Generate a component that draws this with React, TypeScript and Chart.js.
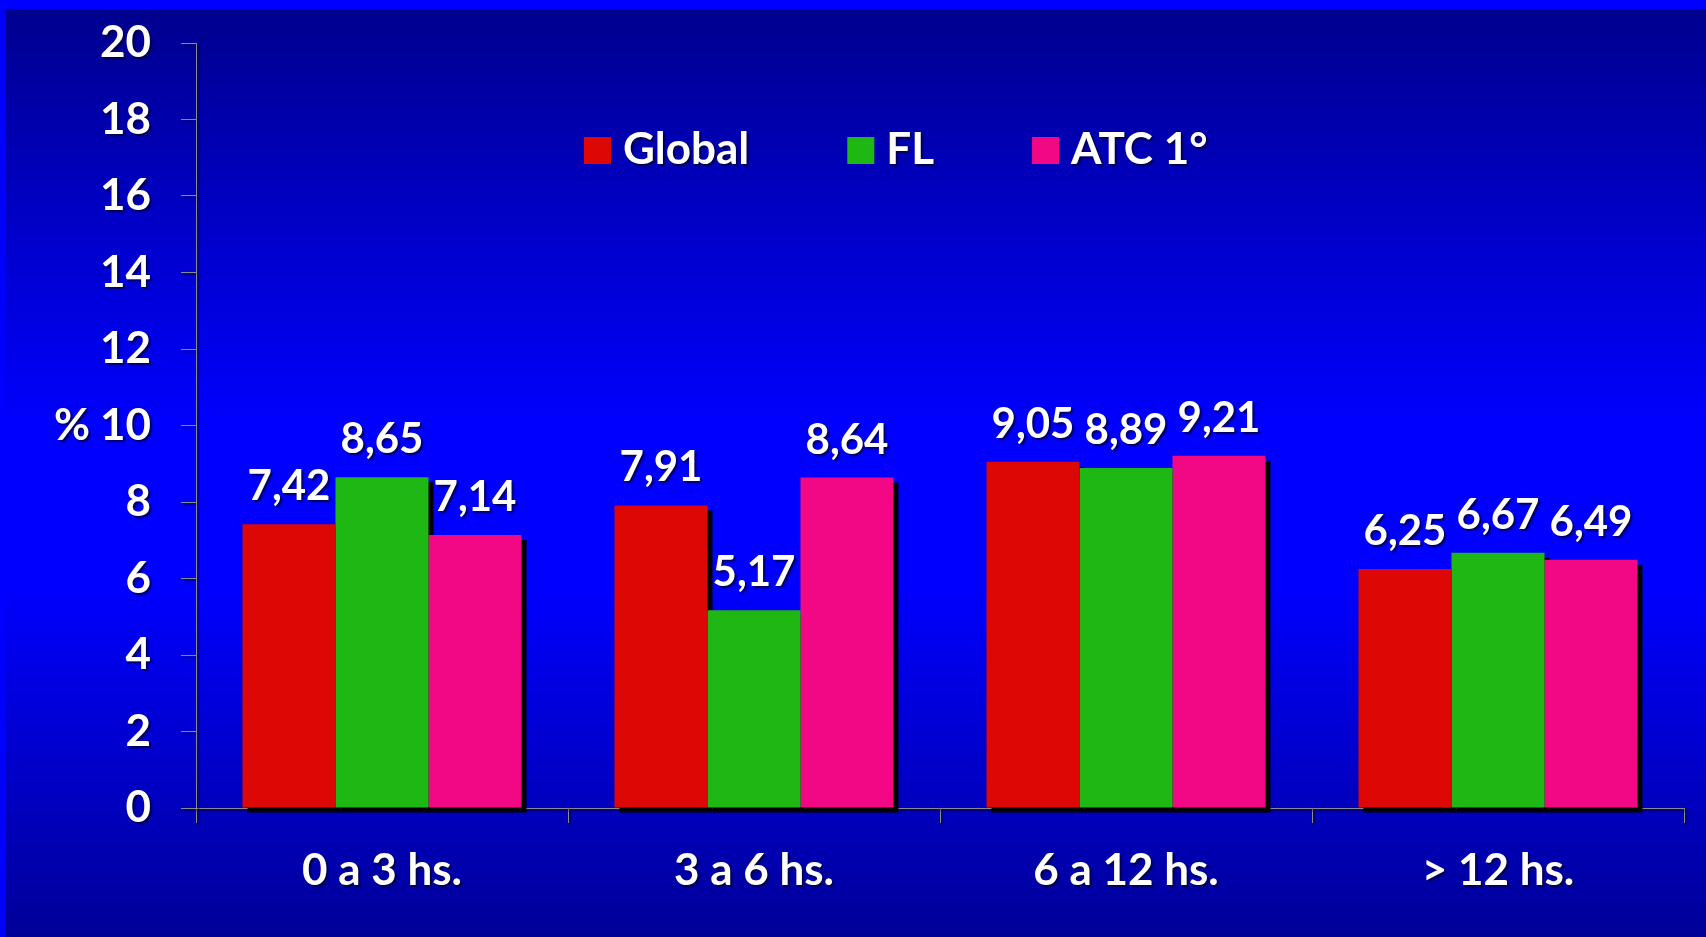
import React, { useEffect, useRef } from "react";
import { Chart, registerables } from "chart.js";

Chart.register(...registerables);

// Categories and series values
const categories = ["0 a 3 hs.", "3 a 6 hs.", "6 a 12 hs.", "> 12 hs."];
const globalValues = [7.42, 7.91, 9.05, 6.25];
const flValues = [8.65, 5.17, 8.89, 6.67];
const atcValues = [7.14, 8.64, 9.21, 6.49];
const seriesNames = ["Global", "FL", "ATC 1°"];
const seriesColors = ["#DD0806", "#1FB714", "#F20884"];
const yMin = 0;
const yMax = 20;
const yStep = 2;
const yTitle = "%";

const FONT = 'Lato, "Open Sans", "DejaVu Sans", sans-serif';
const AXIS_GRAY = "#8a8a8a";

const fmt = (v: number) => v.toFixed(2).replace(".", ",");

const setTextShadow = (ctx: CanvasRenderingContext2D) => {
  ctx.shadowColor = "rgba(0,0,40,0.75)";
  ctx.shadowOffsetX = 2;
  ctx.shadowOffsetY = 2;
  ctx.shadowBlur = 2;
};

const clearShadow = (ctx: CanvasRenderingContext2D) => {
  ctx.shadowColor = "rgba(0,0,0,0)";
  ctx.shadowOffsetX = 0;
  ctx.shadowOffsetY = 0;
  ctx.shadowBlur = 0;
};

// Slide-style blue gradient background with a bright frame edge
const backgroundPlugin = {
  id: "slideBackground",
  beforeDraw(chart: any) {
    const { ctx, width, height } = chart;
    ctx.save();
    const g = ctx.createLinearGradient(0, 9, 0, height);
    g.addColorStop(0, "#00008e");
    g.addColorStop(0.45, "#0000ff");
    g.addColorStop(0.62, "#0000ff");
    g.addColorStop(1, "#000098");
    ctx.fillStyle = g;
    ctx.fillRect(0, 0, width, height);
    ctx.fillStyle = "#0000ff";
    ctx.fillRect(0, 0, width, 9);
    ctx.fillRect(0, 0, 6, height);
    ctx.restore();
    setTextShadow(ctx);
  },
};

// Black drop shadows painted under all bars, then value labels above each bar
const barDecorPlugin = {
  id: "barDecor",
  beforeDatasetsDraw(chart: any) {
    const ctx = chart.ctx;
    ctx.save();
    clearShadow(ctx);
    ctx.fillStyle = "#000000";
    chart.data.datasets.forEach((_ds: any, di: number) => {
      const meta = chart.getDatasetMeta(di);
      meta.data.forEach((bar: any) => {
        const { x, y, base, width } = bar.getProps(["x", "y", "base", "width"], true);
        ctx.fillRect(x - width / 2 + 5, y + 5, width, base - y);
      });
    });
    ctx.restore();
    ctx.save();
    clearShadow(ctx);
  },
  afterDatasetsDraw(chart: any) {
    const ctx = chart.ctx;
    ctx.restore();
    ctx.save();
    setTextShadow(ctx);
    ctx.fillStyle = "#ffffff";
    ctx.font = `bold 42px ${FONT}`;
    ctx.textAlign = "center";
    ctx.textBaseline = "alphabetic";
    chart.data.datasets.forEach((ds: any, di: number) => {
      const meta = chart.getDatasetMeta(di);
      meta.data.forEach((bar: any, i: number) => {
        ctx.fillText(fmt(ds.data[i]), bar.x, bar.y - 24);
      });
    });
    ctx.restore();
    setTextShadow(ctx);
  },
  afterDraw(chart: any) {
    const { ctx, chartArea } = chart;
    ctx.save();
    // axis title
    setTextShadow(ctx);
    ctx.fillStyle = "#ffffff";
    ctx.font = `bold 44px ${FONT}`;
    ctx.textAlign = "center";
    ctx.textBaseline = "middle";
    ctx.fillText(yTitle, 72, chart.scales.y.getPixelForValue(10));

    // legend inside the plot area
    const base = chartArea.top + 121;
    const box = 27;
    let x = chartArea.left + 388;
    ctx.textAlign = "left";
    ctx.textBaseline = "alphabetic";
    seriesNames.forEach((name, i) => {
      clearShadow(ctx);
      ctx.fillStyle = seriesColors[i];
      ctx.fillRect(x, base - box, box, box);
      setTextShadow(ctx);
      ctx.fillStyle = "#ffffff";
      ctx.fillText(name, x + box + 12, base);
      x += box + 12 + ctx.measureText(name).width + 98;
    });
    ctx.restore();
  },
};

export default function App() {
  const canvasRef = useRef<HTMLCanvasElement | null>(null);

  useEffect(() => {
    document.body.style.margin = "0";
    document.body.style.overflow = "hidden";
    const canvas = canvasRef.current;
    if (!canvas) return;

    const tickFont = { family: FONT, size: 44, weight: "bold" as const };
    const barStyle = { categoryPercentage: 0.75, barPercentage: 1, borderWidth: 0 };

    const chart = new Chart(canvas, {
      type: "bar",
      data: {
        labels: categories,
        datasets: [
          { label: seriesNames[0], data: globalValues, backgroundColor: seriesColors[0], ...barStyle },
          { label: seriesNames[1], data: flValues, backgroundColor: seriesColors[1], ...barStyle },
          { label: seriesNames[2], data: atcValues, backgroundColor: seriesColors[2], ...barStyle },
        ],
      },
      options: {
        responsive: false,
        animation: false,
        events: [],
        layout: { padding: { top: 43, right: 22, left: 0, bottom: 0 } },
        plugins: {
          legend: { display: false },
          tooltip: { enabled: false },
        },
        scales: {
          x: {
            z: 1,
            grid: {
              display: true,
              drawOnChartArea: false,
              drawTicks: true,
              tickLength: 15,
              color: AXIS_GRAY,
              offset: true,
            },
            border: { color: AXIS_GRAY, width: 1 },
            ticks: { color: "#ffffff", font: tickFont, padding: 21, maxRotation: 0 },
            afterFit: (s: any) => {
              s.height = 129;
              s.paddingLeft = 0;
              s.paddingRight = 0;
            },
          },
          y: {
            min: yMin,
            max: yMax,
            grid: {
              drawOnChartArea: false,
              drawTicks: true,
              tickLength: 15,
              color: AXIS_GRAY,
            },
            border: { color: AXIS_GRAY, width: 1 },
            ticks: { stepSize: yStep, color: "#ffffff", font: tickFont, padding: 30 },
            afterFit: (s: any) => {
              s.width = 196;
              s.paddingTop = 0;
              s.paddingBottom = 0;
            },
          },
        },
      } as any,
      plugins: [backgroundPlugin, barDecorPlugin],
    });

    return () => chart.destroy();
  }, []);

  return (
    <div style={{ width: 1706, height: 937, overflow: "hidden" }}>
      <canvas ref={canvasRef} width={1706} height={937} style={{ display: "block" }} />
    </div>
  );
}
